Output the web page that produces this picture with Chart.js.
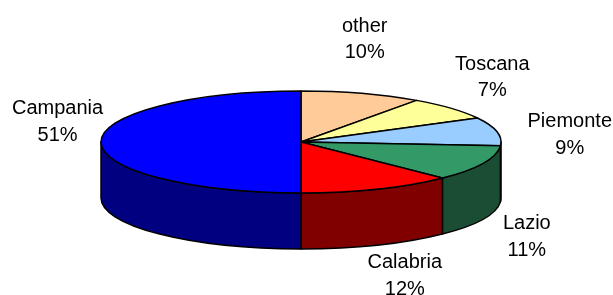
<!DOCTYPE html>
<html lang="en">
<head>
<meta charset="UTF-8">
<title>Regions</title>
<style>
  body { margin: 0; background: #fff; }
</style>
</head>
<body>
<canvas id="chartId" width="613" height="295"></canvas>
<script src="https://cdn.jsdelivr.net/npm/chart.js@4.4.0/dist/chart.umd.min.js"></script>
<script>
const regions = ['other', 'Toscana', 'Piemonte', 'Lazio', 'Calabria', 'Campania'];
const shares = [9.8, 7.4, 9.0, 11.3, 12.5, 50.0];
const shareLabels = ['10%', '7%', '9%', '11%', '12%', '51%'];
const topColors = ['#FFCC99', '#FFFF99', '#99CCFF', '#339966', '#FF0000', '#0000FF'];
const sideColors = ['#80664D', '#80804D', '#4D6680', '#1A4D33', '#800000', '#000080'];

const tilt = 0.255;  // vertical squash of the pie
const depth = 56;    // height of the side wall

const pie3d = {
  id: 'pie3d',
  beforeDatasetsDraw(chart) {
    const ctx = chart.ctx;
    const arcs = chart.getDatasetMeta(0).data;

    ctx.save();
    ctx.lineWidth = 1.5;
    ctx.strokeStyle = '#000';
    ctx.lineJoin = 'round';

    const props = arcs.map(a => a.getProps(['x', 'y', 'startAngle', 'endAngle', 'outerRadius'], true));

    // side walls - only the front half shows
    props.forEach((p, i) => {
      const rx = p.outerRadius, ry = rx * tilt;
      const a0 = Math.max(p.startAngle, 0);
      const a1 = Math.min(p.endAngle, Math.PI);
      if (a1 <= a0) return;
      ctx.beginPath();
      ctx.ellipse(p.x, p.y, rx, ry, 0, a0, a1);
      ctx.lineTo(p.x + rx * Math.cos(a1), p.y + ry * Math.sin(a1) + depth);
      ctx.ellipse(p.x, p.y + depth, rx, ry, 0, a1, a0, true);
      ctx.closePath();
      ctx.fillStyle = sideColors[i];
      ctx.fill();
      ctx.stroke();
    });

    // top face
    props.forEach((p, i) => {
      const rx = p.outerRadius, ry = rx * tilt;
      ctx.beginPath();
      ctx.moveTo(p.x, p.y);
      ctx.ellipse(p.x, p.y, rx, ry, 0, p.startAngle, p.endAngle);
      ctx.closePath();
      ctx.fillStyle = topColors[i];
      ctx.fill();
      ctx.stroke();
    });

    // labels outside the pie, kept inside the canvas
    ctx.fillStyle = '#000';
    ctx.font = "20px 'Liberation Sans', Arial, sans-serif";
    ctx.textAlign = 'center';
    ctx.textBaseline = 'middle';
    props.forEach((p, i) => {
      const mid = (p.startAngle + p.endAngle) / 2;
      const sx = Math.cos(mid), sy = Math.sin(mid);
      let lx, ly;
      if (sy < 0.05) {
        lx = p.x + (180 + 100 * Math.abs(sx)) * sx;
        ly = p.y + 108 * sy + (sx > 0 ? 16 : 20) * Math.pow(sx, 3);
      } else {
        lx = p.x + 15 + 232 * sx;
        ly = p.y + 63 + 77 * sy;
      }
      const hw = Math.max(ctx.measureText(regions[i]).width, ctx.measureText(shareLabels[i]).width) / 2;
      lx = Math.min(Math.max(lx, 12 + hw), chart.width - 1 - hw);
      ctx.fillText(regions[i], lx, ly - 13.3);
      ctx.fillText(shareLabels[i], lx, ly + 13.3);
    });

    ctx.restore();
    return false;
  }
};

const ctx = document.getElementById('chartId').getContext('2d');
const myChart = new Chart(ctx, {
  type: 'pie',
  data: {
    labels: regions,
    datasets: [{
      data: shares,
      backgroundColor: topColors,
      borderColor: '#000',
      borderWidth: 1.5
    }]
  },
  options: {
    responsive: false,
    animation: false,
    radius: 200,
    layout: { padding: { left: 0, right: 11, top: 0, bottom: 11 } },
    plugins: {
      legend: { display: false },
      tooltip: { enabled: false }
    }
  },
  plugins: [pie3d]
});
</script>
</body>
</html>
